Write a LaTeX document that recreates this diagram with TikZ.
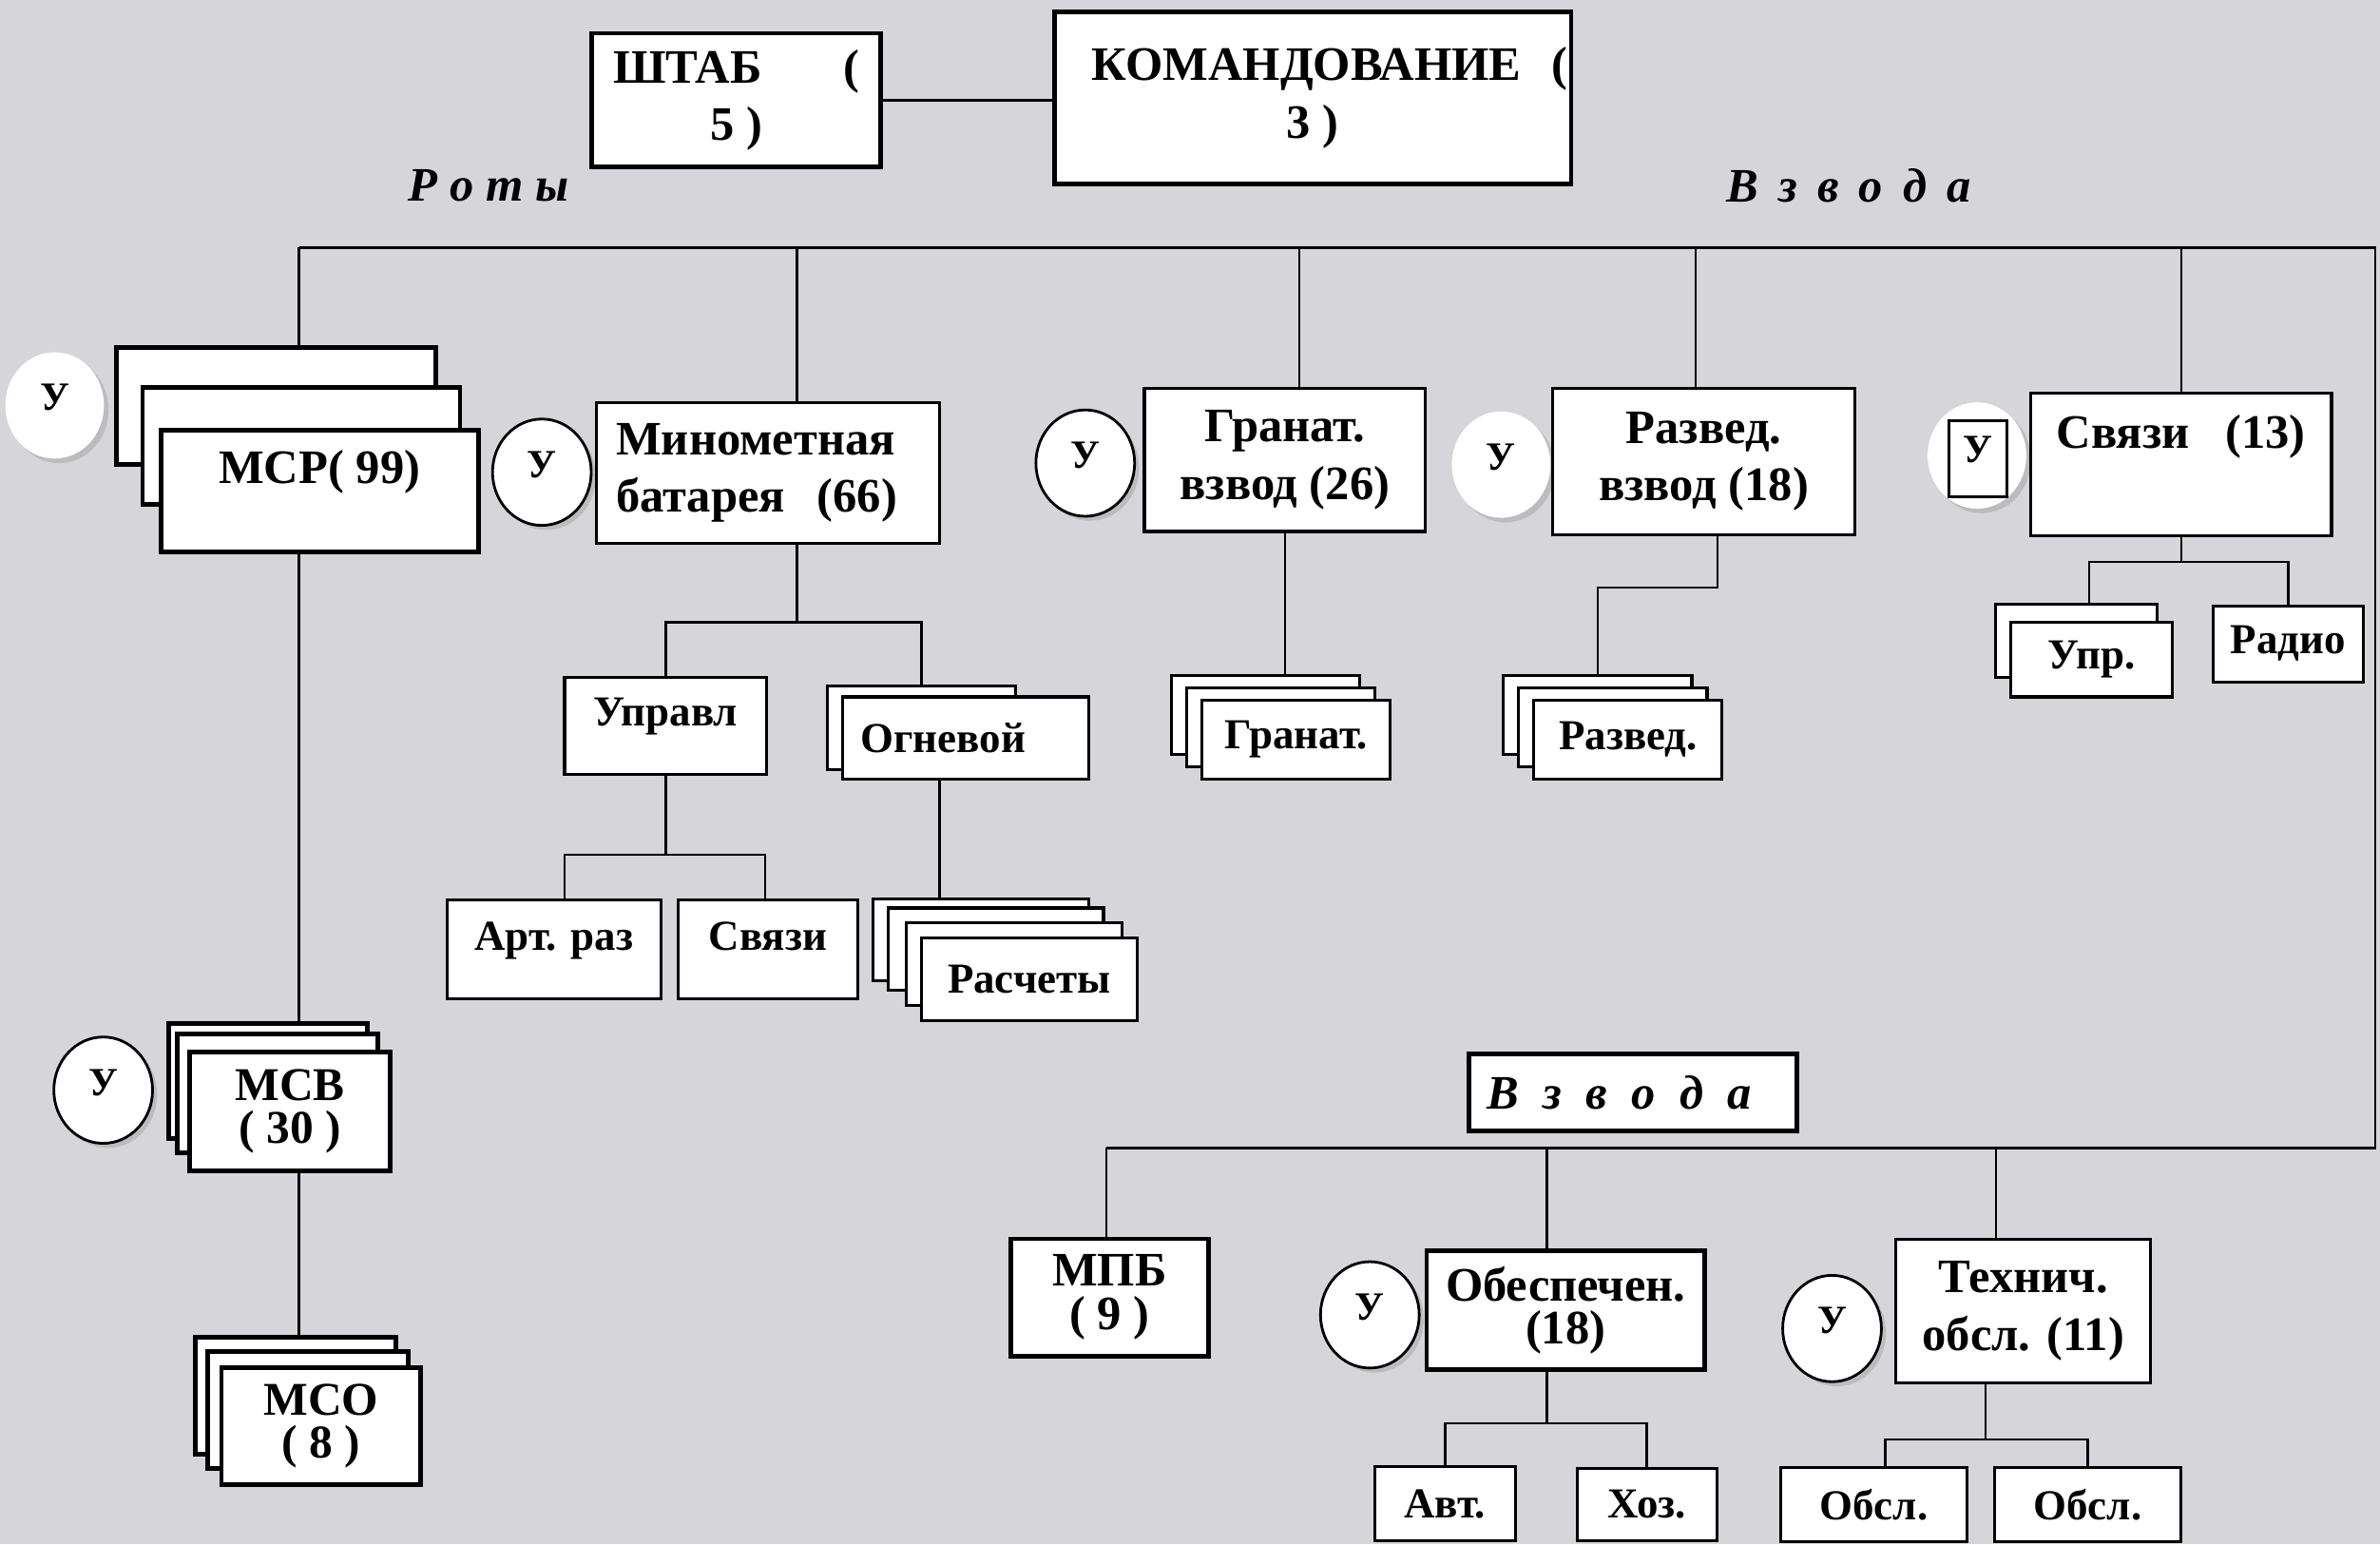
\documentclass[tikz,border=0pt]{standalone}
\usepackage{fontspec}
\setmainfont{Liberation Serif}
\usetikzlibrary{shapes.geometric, shadows}
\definecolor{mramor}{RGB}{214,214,218}

\begin{document}
\begin{tikzpicture}[x = 0.01cm, y = -0.01cm,
        box/.style = {draw, fill = white, line width = 0.55pt, inner sep = 0pt, align = center,
            font = \bfseries\fontsize{9}{10.8}\selectfont},
        thickbox/.style = {box, line width = 0.85pt},
        smallbox/.style = {box, font = \bfseries\fontsize{8}{9.6}\selectfont},
        ukrug/.style = {ellipse, draw, fill = white, line width = 0.5pt, inner sep = 0pt,
            minimum width = 0.65cm, minimum height = 0.70cm,
            text height = 0.17cm, text depth = 0.1cm,
            font = \bfseries\fontsize{7.5}{9}\selectfont,
            drop shadow = {shadow xshift = 0.03cm, shadow yshift = -0.03cm, opacity = 0.3}},
        kursiv/.style = {font = \bfseries\itshape\fontsize{9}{10.8}\selectfont, inner sep = 0pt},
        link/.style = {line width = 0.45pt}]

    \useasboundingbox (0, 0) rectangle (1568, 1017);
    \fill [mramor] (0, 0) rectangle (1568, 1017);

    % oben
    \node [thickbox, minimum width = 1.90cm, minimum height = 0.88cm] (shtab) at (485, 66)
        {\makebox[1.62cm]{ШТАБ\hfill(}\\5 )};
    \node [thickbox, minimum width = 3.40cm, minimum height = 1.13cm] (komand) at (865, 64.5)
        {\hspace*{0.22cm}\makebox[3.13cm]{КОМАНДОВАНИЕ\hfill(}\\3 )};
    \draw [link] (shtab.east) -- (shtab.east -| komand.west);

    \node [kursiv] (roty) at (322, 122) {Р о т ы};
    \node [kursiv] (vzvod1) at (1218, 122) {В\, з\, в\, о\, д\, а};

    % Schiene
    \coordinate (b1) at (197, 163);
    \coordinate (b2) at (525, 163);
    \coordinate (b3) at (856, 163);
    \coordinate (b4) at (1117, 163);
    \coordinate (b5) at (1437, 163);
    \coordinate (ecke1) at (1565, 163);
    \coordinate (ecke2) at (1565, 756);
    \coordinate (c1) at (729, 756);
    \coordinate (c2) at (1019, 756);
    \coordinate (c3) at (1315, 756);
    \draw [link] (b1) -- (ecke1) -- (ecke2) -- (c1);

    % Roty
    \node [thickbox, minimum width = 2.10cm, minimum height = 0.77cm] (msr1) at (182, 267.5) {};
    \node [thickbox, minimum width = 2.09cm, minimum height = 0.77cm] (msr2) at (198.5, 293.5) {};
    \node [thickbox, anchor = north, minimum width = 2.09cm,
        text height = 0.35cm, text depth = 0.45cm] (msr3) at (210.5, 282) {МСР( 99)};
    \node [ukrug, draw = none] (u1) at (36, 267) {У};

    \node [ukrug] (u2) at (357, 311) {У};
    \node [box, minimum width = 2.26cm, minimum height = 0.93cm, text width = 2.0cm,
        align = left] (minom) at (506, 311.5) {Минометная\\батарея\ \ (66)};

    \node [ukrug] (u3) at (715, 305) {У};
    \node [box, minimum width = 1.85cm, minimum height = 0.94cm] (granat) at (846.5, 303)
        {Гранат.\\взвод (26)};

    \node [ukrug, draw = none] (u4) at (989, 306) {У};
    \node [box, minimum width = 1.99cm, minimum height = 0.96cm] (razved) at (1122.5, 304)
        {Развед.\\взвод (18)};

    \node [ukrug, draw = none] (u5) at (1302.5, 300) {};
    \node [box, minimum width = 0.38cm, minimum height = 0.50cm, text height = 0.17cm,
        text depth = 0.12cm, font = \bfseries\fontsize{7.5}{9}\selectfont] (u5r) at (1303, 302) {У};
    \node [box, anchor = north, minimum width = 1.98cm,
        text height = 0.36cm, text depth = 0.58cm] (svyazi) at (1437, 258) {Связи\ \ \ (13)};

    % Batarea
    \node [smallbox, anchor = north, minimum width = 1.33cm,
        text height = 0.32cm, text depth = 0.32cm] (upr) at (438.5, 445) {Управл};
    \node [smallbox, minimum width = 1.24cm, minimum height = 0.55cm] (ogn1) at (607, 479.5) {};
    \node [smallbox, minimum width = 1.62cm, minimum height = 0.54cm, inner xsep = 0.12cm,
        text width = 1.38cm, align = left] (ogn2) at (636, 486) {Огневой};
    \node [smallbox, anchor = north, minimum width = 1.41cm,
        text height = 0.33cm, text depth = 0.32cm] (art) at (365, 592) {Арт. раз};
    \node [smallbox, anchor = north, minimum width = 1.18cm,
        text height = 0.33cm, text depth = 0.32cm] (svz2) at (506, 592) {Связи};
    \node [smallbox, minimum width = 1.42cm, minimum height = 0.54cm] (rasch1) at (646, 619) {};
    \node [smallbox, minimum width = 1.42cm, minimum height = 0.54cm] (rasch2) at (656, 625) {};
    \node [smallbox, minimum width = 1.42cm, minimum height = 0.54cm] (rasch3) at (668, 635) {};
    \node [smallbox, minimum width = 1.42cm, minimum height = 0.54cm] (rasch4) at (678, 645) {Расчеты};

    % Vzvoda
    \foreach \i/\d in {1/0, 2/10} {
        \node [smallbox, minimum width = 1.24cm, minimum height = 0.52cm] (gr\i) at (834 + \d, 471 + 0.8*\d) {};
        \node [smallbox, minimum width = 1.24cm, minimum height = 0.52cm] (rz\i) at (1052.6 + \d, 471 + 0.8*\d) {};
    }
    \node [smallbox, minimum width = 1.24cm, minimum height = 0.52cm] (gr3) at (854, 487) {Гранат.};
    \node [smallbox, minimum width = 1.24cm, minimum height = 0.52cm] (rz3) at (1072.6, 487) {Развед.};

    \node [smallbox, minimum width = 1.06cm, minimum height = 0.48cm] (up1) at (1368, 422) {};
    \node [smallbox, minimum width = 1.06cm, minimum height = 0.49cm] (up2) at (1378, 434.5) {Упр.};
    \node [smallbox, minimum width = 0.99cm, minimum height = 0.50cm] (radio) at (1507.5, 424) {Радио};

    % links unten
    \node [thickbox, minimum width = 1.31cm, minimum height = 0.76cm] (msv1) at (176.5, 712) {};
    \node [thickbox, minimum width = 1.32cm, minimum height = 0.78cm] (msv2) at (183, 720) {};
    \node [thickbox, minimum width = 1.32cm, minimum height = 0.78cm,
        font = \bfseries\fontsize{8.8}{8}\selectfont] (msv3) at (191, 732) {МСВ\\( 30 )};
    \node [ukrug] (u6) at (68, 718) {У};

    \node [thickbox, minimum width = 1.32cm, minimum height = 0.77cm] (mso1) at (194.8, 919.3) {};
    \node [thickbox, minimum width = 1.32cm, minimum height = 0.77cm] (mso2) at (202.8, 928.5) {};
    \node [thickbox, minimum width = 1.31cm, minimum height = 0.77cm,
        font = \bfseries\fontsize{8.8}{8}\selectfont] (mso3) at (211.5, 939.5) {МСО\\( 8 )};

    % rechts unten
    \node [thickbox, minimum width = 2.16cm, minimum height = 0.51cm, inner xsep = 0.12cm,
        text width = 1.92cm, align = left, font = \bfseries\itshape\fontsize{9}{10.8}\selectfont]
        (vzvod2) at (1076, 719.5) {В\, з\, в\, о\, д\, а};

    \node [thickbox, minimum width = 1.30cm, minimum height = 0.77cm,
        font = \bfseries\fontsize{9}{8.2}\selectfont] (mpb) at (731, 854.5) {МПБ\\( 9 )};
    \node [ukrug] (u7) at (902.5, 866) {У};
    \node [thickbox, minimum width = 1.83cm, minimum height = 0.78cm,
        font = \bfseries\fontsize{9}{8}\selectfont] (obesp) at (1031.5, 863) {Обеспечен.\\(18)};
    \node [ukrug] (u8) at (1207, 875) {У};
    \node [box, minimum width = 1.68cm, minimum height = 0.95cm] (tekh) at (1333, 863.5)
        {Технич.\\обсл. (11)};

    \node [smallbox, minimum width = 0.925cm, minimum height = 0.49cm] (avt) at (952, 990.5) {Авт.};
    \node [smallbox, minimum width = 0.92cm, minimum height = 0.48cm] (hoz) at (1085, 991) {Хоз.};
    \node [smallbox, minimum width = 1.23cm, minimum height = 0.49cm] (obsl1) at (1234.5, 991) {Обсл.};
    \node [smallbox, minimum width = 1.23cm, minimum height = 0.49cm] (obsl2) at (1375.4, 991) {Обсл.};

    % Linien
    \draw [link] (b1) -- (b1 |- msr1.north);
    \draw [link] (b1 |- msr3.south) -- (b1 |- msv1.north);
    \draw [link] (b1 |- msv3.south) -- (b1 |- mso1.north);
    \draw [link] (b2) -- (b2 |- minom.north);
    \draw [link] (b3) -- (b3 |- granat.north);
    \draw [link] (b4) -- (b4 |- razved.north);
    \draw [link] (b5) -- (svyazi.north);

    \coordinate (mgabel) at (525, 410);
    \draw [link] (b2 |- minom.south) -- (mgabel);
    \draw [link] (upr.north) |- (mgabel) -| (ogn1.north);
    \draw [link] (upr.south) -- ++(0, 52) coordinate (ugabel);
    \draw [link] ([xshift = 0.07cm] art.north) |- (ugabel) -| ([xshift = -0.02cm] svz2.north);
    \coordinate (ognfuss) at ([xshift = -0.17cm] ogn2.south);
    \draw [link] (ognfuss) -- (ognfuss |- rasch1.north);

    \draw [link] (granat.south) -- (granat.south |- gr1.north);
    \draw [link] ([xshift = 0.09cm] razved.south) -- ++(0, 34) -| (rz1.north);
    \draw [link] (svyazi.south) -- ++(0, 16) coordinate (sgabel);
    \draw [link] ([xshift = 0.085cm] up1.north) |- (sgabel) -| (radio.north);

    \draw [link] (c1) -- (c1 |- mpb.north);
    \draw [link] (c2) -- (c2 |- obesp.north);
    \draw [link] (c3) -- (c3 |- tekh.north);
    \draw [link] (c2 |- obesp.south) -- ++(0, 34) coordinate (ogabel);
    \draw [link] (avt.north) |- (ogabel) -| (hoz.north);
    \draw [link] ([xshift = -0.25cm] tekh.south) -- ++(0, 36) coordinate (tgabel);
    \draw [link] ([xshift = 0.075cm] obsl1.north) |- (tgabel) -| (obsl2.north);
\end{tikzpicture}
\end{document}
